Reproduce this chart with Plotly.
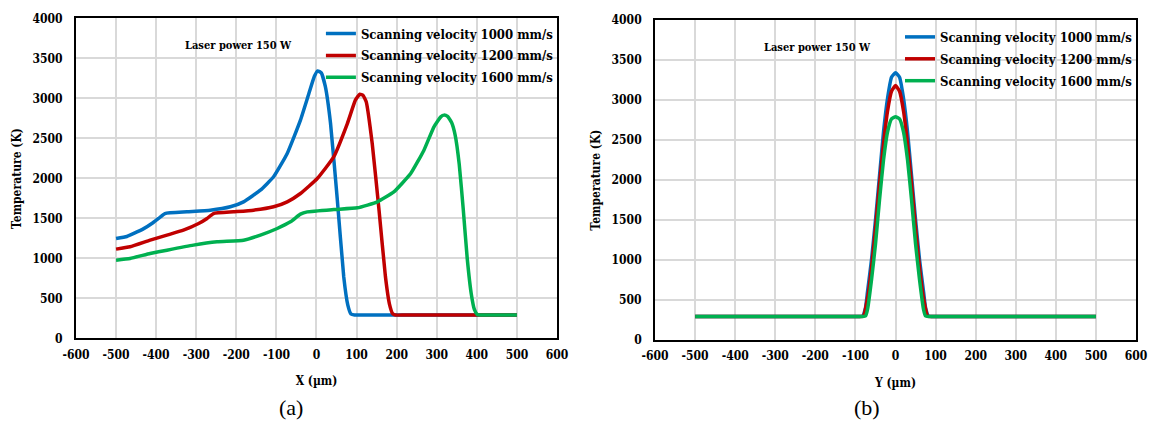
import plotly.graph_objects as go

# ---- panel (a): temperature along the scan direction X ----
x_1000 = [-500, -473, -457, -432, -407, -394, -378, -323, -265, -215, -182, -140,
          -107, -73, -40, -19, -5, 3, 12, 22, 35, 52, 68, 78, 86, 95, 120, 500]
t_1000 = [1250, 1275, 1310, 1370, 1450, 1500, 1562, 1583, 1604, 1646, 1708, 1854,
          2021, 2312, 2729, 3062, 3280, 3345, 3320, 3150, 2690, 1730, 770, 420, 305, 293, 293, 293]

x_1200 = [-500, -465, -415, -373, -332, -294, -273, -257, -207, -157, -107, -73,
          -40, 2, 43, 77, 97, 108, 116, 124, 139, 156, 172, 182, 190, 197, 220, 500]
t_1200 = [1117, 1146, 1229, 1292, 1354, 1437, 1500, 1562, 1583, 1604, 1646, 1708,
          1812, 2000, 2271, 2687, 2979, 3054, 3040, 2960, 2437, 1604, 771, 430, 310, 293, 293, 293]

x_1600 = [-500, -465, -415, -373, -307, -248, -182, -140, -98, -65, -40, -23,
          43, 102, 152, 193, 235, 268, 293, 310, 318, 327, 337, 346, 356, 366, 376, 386, 394, 401, 408, 430, 500]
t_1600 = [979, 1000, 1062, 1104, 1167, 1208, 1229, 1292, 1375, 1458, 1554, 1583,
          1612, 1633, 1708, 1833, 2062, 2354, 2646, 2770, 2792, 2775, 2700, 2540, 2180, 1620, 1000, 560, 360, 300, 293, 293, 293]

# ---- panel (b): temperature across the track Y ----
y_1000 = [-500, -120, -90, -82, -75, -70, -60, -50, -40, -30, -20, -10, 0,
          10, 20, 30, 40, 50, 60, 70, 75, 82, 90, 120, 500]
ty_1000 = [293, 293, 293, 300, 400, 600, 1000, 1500, 2050, 2600, 3020, 3285, 3340,
           3285, 3020, 2600, 2050, 1500, 1000, 600, 400, 300, 293, 293, 293]

y_1200 = [-500, -120, -88, -80, -70, -60, -50, -40, -30, -20, -10, 0,
          10, 20, 30, 40, 50, 60, 70, 80, 88, 120, 500]
ty_1200 = [293, 293, 293, 300, 520, 900, 1400, 1950, 2450, 2860, 3110, 3180,
           3110, 2860, 2450, 1950, 1400, 900, 520, 300, 293, 293, 293]

y_1600 = [-500, -120, -82, -75, -70, -60, -50, -40, -30, -20, -10, 0,
          10, 20, 30, 40, 50, 60, 70, 75, 82, 120, 500]
ty_1600 = [293, 293, 293, 300, 380, 750, 1200, 1750, 2250, 2600, 2765, 2790,
           2765, 2600, 2250, 1750, 1200, 750, 380, 300, 293, 293, 293]

names = ["Scanning velocity 1000 mm/s", "Scanning velocity 1200 mm/s",
         "Scanning velocity 1600 mm/s"]
colors = ["#0070C0", "#C00000", "#00B050"]

x_ticks = list(range(-600, 601, 100))
x_tick_text = [str(v) for v in x_ticks]          # plain hyphen minus
y_ticks = list(range(0, 4001, 500))
y_tick_text = [str(v) for v in y_ticks]

SERIF = "DejaVu Serif Condensed"
fig = go.Figure()

panel_a = [(x_1000, t_1000), (x_1200, t_1200), (x_1600, t_1600)]
panel_b = [(y_1000, ty_1000), (y_1200, ty_1200), (y_1600, ty_1600)]

for i, (xs, ts) in enumerate(panel_a):
    fig.add_trace(go.Scatter(
        x=xs, y=ts, mode="lines", name=names[i],
        line=dict(color=colors[i], width=3.5, shape="spline", smoothing=0.4),
        xaxis="x", yaxis="y", legend="legend", legendgroup="a%d" % i))

for i, (xs, ts) in enumerate(panel_b):
    fig.add_trace(go.Scatter(
        x=xs, y=ts, mode="lines", name=names[i],
        line=dict(color=colors[i], width=3.5, shape="spline", smoothing=0.4),
        xaxis="x2", yaxis="y2", legend="legend2", legendgroup="b%d" % i))

axis_common = dict(
    showgrid=True, gridcolor="#D9D9D9", gridwidth=2,
    showline=True, linecolor="black", linewidth=2, mirror=True,
    zeroline=False, ticks="outside", tickcolor="rgba(0,0,0,0)",
    automargin=False,
    tickfont=dict(family=SERIF, size=12, color="black", weight="bold"),
)

xaxis_common = dict(axis_common, range=[-600, 600], tickvals=x_ticks,
                    ticktext=x_tick_text, ticklen=4)
yaxis_common = dict(axis_common, range=[0, 4000], tickvals=y_ticks,
                    ticktext=y_tick_text, ticklen=9)

title_font = dict(family=SERIF, size=12, color="black", weight="bold")

fig.update_layout(
    width=1149, height=422,
    margin=dict(l=0, r=0, t=0, b=0),
    paper_bgcolor="white", plot_bgcolor="white",
    showlegend=True,
    xaxis=dict(xaxis_common, domain=[0.0661, 0.4848], anchor="y",
               title=dict(text="X (µm)", font=title_font, standoff=16)),
    yaxis=dict(yaxis_common, domain=[0.1979, 0.9562], anchor="x",
               title=dict(text="Temperature (K)", font=title_font, standoff=8)),
    xaxis2=dict(xaxis_common, domain=[0.5701, 0.9887], anchor="y2",
                title=dict(text="Y (µm)", font=title_font, standoff=16)),
    yaxis2=dict(yaxis_common, domain=[0.1943, 0.9526], anchor="x2",
                title=dict(text="Temperature (K)", font=title_font, standoff=8)),
    legend=dict(x=0.2793, y=0.956, xanchor="left", yanchor="top",
                bgcolor="rgba(0,0,0,0)", tracegroupgap=2,
                font=dict(family=SERIF, size=13, color="black", weight="bold")),
    legend2=dict(x=0.7833, y=0.948, xanchor="left", yanchor="top",
                 bgcolor="rgba(0,0,0,0)", tracegroupgap=2,
                 font=dict(family=SERIF, size=13, color="black", weight="bold")),
    annotations=[
        dict(text="Laser power 150 W", x=0.159, y=0.893, xref="paper", yref="paper",
             xanchor="left", yanchor="middle", showarrow=False,
             font=dict(family=SERIF, size=11, color="black", weight="bold")),
        dict(text="Laser power 150 W", x=0.663, y=0.888, xref="paper", yref="paper",
             xanchor="left", yanchor="middle", showarrow=False,
             font=dict(family=SERIF, size=11, color="black", weight="bold")),
        dict(text="(a)", x=0.253, y=0.034, xref="paper", yref="paper",
             xanchor="center", yanchor="middle", showarrow=False,
             font=dict(family="Liberation Serif", size=22, color="black")),
        dict(text="(b)", x=0.755, y=0.034, xref="paper", yref="paper",
             xanchor="center", yanchor="middle", showarrow=False,
             font=dict(family="Liberation Serif", size=22, color="black")),
    ],
)

fig.write_html("out.html")
